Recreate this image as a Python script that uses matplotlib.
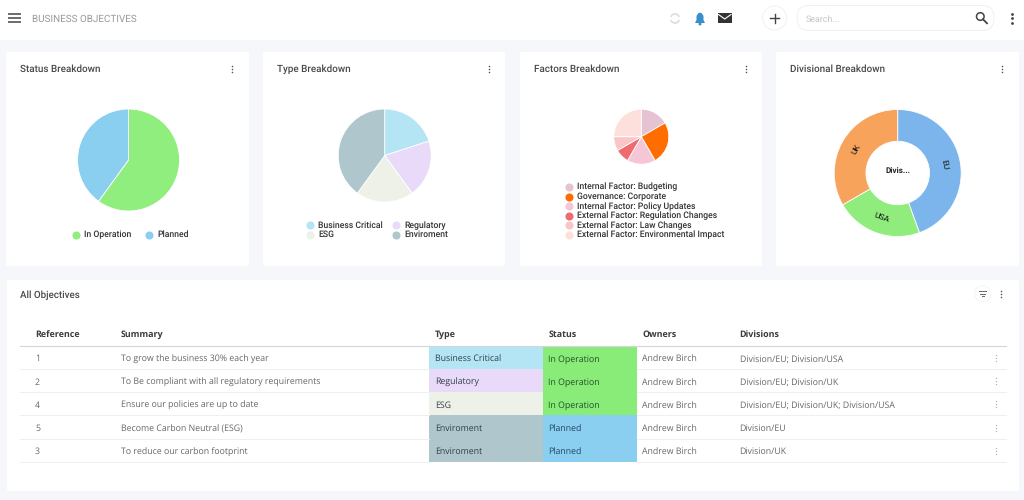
import matplotlib
matplotlib.use('Agg')
import matplotlib.pyplot as plt
from matplotlib.patches import Rectangle, FancyBboxPatch, Circle, Polygon, Arc
import numpy as np

plt.rcParams['font.family'] = ['Roboto', 'DejaVu Sans']
plt.rcParams['text.hinting'] = 'none'

W = 1024
H = 500

status_labels = ['In Operation', 'Planned']
status_values = [3, 2]
status_colors = ['#90ee7e', '#8bcff0']

type_labels = ['Business Critical', 'Regulatory', 'ESG', 'Enviroment']
type_values = [1, 1, 1, 2]
type_colors = ['#b3e5f5', '#e9daf9', '#edf1e8', '#afc6cc']

factor_labels = ['Internal Factor: Budgeting', 'Governance: Corporate', 'Internal Factor: Policy Updates',
                 'External Factor: Regulation Changes', 'External Factor: Law Changes',
                 'External Factor: Environmental Impact']
factor_values = [2, 3, 2, 1, 1, 3]
factor_colors = ['#e6c3d3', '#ff6d00', '#f7c6d6', '#ee6b70', '#f9c5c7', '#fde0db']

division_labels = ['EU', 'USA', 'UK']
division_values = [4, 2, 3]
division_colors = ['#7cb5ec', '#90ed7d', '#f7a35c']

table_columns = ['Reference', 'Summary', 'Type', 'Status', 'Owners', 'Divisions']
table_refs = ['1', '2', '4', '5', '3']
table_summary = ['To grow the business 30% each year', 'To Be compliant with all regulatory requirements',
                 'Ensure our policies are up to date', 'Become Carbon Neutral (ESG)', 'To reduce our carbon footprint']
table_type = ['Business Critical', 'Regulatory', 'ESG', 'Enviroment', 'Enviroment']
table_status = ['In Operation', 'In Operation', 'In Operation', 'Planned', 'Planned']
table_owner = ['Andrew Birch'] * 5
table_division = ['Division/EU; Division/USA', 'Division/EU; Division/UK', 'Division/EU; Division/UK; Division/USA',
                  'Division/EU', 'Division/UK']
type_fill = {'Business Critical': '#b3e5f5', 'Regulatory': '#e9daf9', 'ESG': '#edf1e8', 'Enviroment': '#afc6cc'}
status_fill = {'In Operation': '#8aec78', 'Planned': '#8bcff0'}

fig = plt.figure(figsize=(W / 100, H / 100), dpi=100, facecolor='#f6f7fb')
ui = fig.add_axes([0, 0, 1, 1], zorder=0)
ui.set_xlim(0, W)
ui.set_ylim(H, 0)
ui.axis('off')


def card(x0, y0, x1, y1):
    ui.add_patch(FancyBboxPatch((x0 + 2, y0 + 2), x1 - x0 - 4, y1 - y0 - 4, boxstyle='round,pad=2',
                                fc='white', ec='none'))


def kebab(x, y, color='#555555', size=1.3, gap=3):
    ui.scatter([x, x, x], [y - gap, y, y + gap], s=size, color=color, lw=0)


def make_pie(cx, cy, r, values, colors, hole=0):
    ax = fig.add_axes([(cx - r) / W, 1 - (cy + r) / H, 2 * r / W, 2 * r / H], zorder=2)
    wedgeprops = {'edgecolor': 'white', 'linewidth': 0.6}
    if hole:
        wedgeprops['width'] = 1 - hole
    wedges, _ = ax.pie(values, colors=colors, startangle=90, counterclock=False, radius=1, wedgeprops=wedgeprops)
    ax.set_xlim(-1, 1)
    ax.set_ylim(-1, 1)
    for w in wedges:
        w.set_clip_on(False)
    return ax, wedges


def legend_item(x, y, label, color):
    ui.scatter([x], [y], s=34, color=color, lw=0)
    ui.text(x + 8.5, y + 2.6, label, fontsize=6.2, fontweight='medium', color='#333333', va='baseline', ha='left')


# header bar
ui.add_patch(Rectangle((0, 0), W, 40, fc='white', ec='none'))
for y in [14, 18, 22]:
    ui.plot([8, 21], [y, y], color='#444444', lw=1.1, solid_capstyle='butt')
ui.text(31.5, 22, 'BUSINESS OBJECTIVES', fontsize=7.1, color='#9a9a9a', va='baseline', ha='left')

# sync icon
ui.add_patch(Arc((675, 18.5), 9, 9, theta1=200, theta2=340, color='#d9dde0', lw=1.2))
ui.add_patch(Arc((675, 18.5), 9, 9, theta1=20, theta2=160, color='#d9dde0', lw=1.2))
# bell
ui.add_patch(Polygon([[695, 23], [696.5, 20], [696.5, 16], [698, 13.5], [700, 12.5], [702, 13.5], [703.5, 16],
                      [703.5, 20], [705, 23]], fc='#3a8fc9', ec='none'))
ui.add_patch(Circle((700, 24), 1.5, fc='#3a8fc9', ec='none'))
# envelope
ui.add_patch(Rectangle((718, 13), 13.5, 10, fc='#333333', ec='none'))
ui.plot([718.5, 724.7, 731], [14.5, 19, 14.5], color='white', lw=0.8)
# plus button
ui.add_patch(Circle((774.6, 18), 12, fc='white', ec='#f0f1f3', lw=0.7))
ui.plot([770, 779], [18, 18], color='#444444', lw=1)
ui.plot([774.6, 774.6], [13.5, 22.5], color='#444444', lw=1)
# search box
ui.add_patch(FancyBboxPatch((797, 5.5), 197, 25, boxstyle='round,pad=0,rounding_size=12', fc='white', ec='#eef0f2',
                            lw=0.7))
ui.text(805.5, 21.5, 'Search...', fontsize=6.4, color='#c4c4c4', va='baseline', ha='left')
ui.add_patch(Circle((980.3, 16.5), 3.8, fc='none', ec='#444444', lw=1.1))
ui.plot([983, 987], [19.3, 23.3], color='#444444', lw=1.3)
kebab(1011.5, 18, color='#444444', size=4, gap=4.5)

# chart cards
card_boxes = [(6, 52, 249, 266), (263, 52, 505, 266), (520, 52, 762, 266), (776, 52, 1019, 266)]
card_titles = ['Status Breakdown', 'Type Breakdown', 'Factors Breakdown', 'Divisional Breakdown']
for box, title in zip(card_boxes, card_titles):
    card(*box)
    ui.text(box[0] + 14, 72.3, title, fontsize=7.15, fontweight='medium', color='#4a4a4a', va='baseline', ha='left')
    kebab(box[0] + 226, 68.5)

make_pie(128.5, 160, 51, status_values, status_colors)
make_pie(384.7, 155.5, 46.5, type_values, type_colors)
make_pie(641.3, 136.7, 27.5, factor_values, factor_colors)
donut, donut_wedges = make_pie(897.7, 173, 63.5, division_values, division_colors, hole=0.5)

for w, label in zip(donut_wedges, division_labels):
    mid = np.radians((w.theta1 + w.theta2) / 2)
    rot = ((w.theta1 + w.theta2) / 2 - 90 + 90) % 180 - 90
    donut.text(0.75 * np.cos(mid), 0.75 * np.sin(mid), label, fontsize=6, color='#111111', rotation=rot,
               rotation_mode='anchor', ha='center', va='center')
donut.text(0, 0.04, 'Divis...', fontsize=5.9, fontweight='bold', color='#222222', ha='center', va='center')

# legends
legend_item(76, 234.7, status_labels[0], status_colors[0])
legend_item(148.5, 234.7, status_labels[1], status_colors[1])
type_x = [310, 396, 310, 396]
type_y = [225, 225, 234.7, 234.7]
for x, y, label, color in zip(type_x, type_y, type_labels, type_colors):
    legend_item(x, y, label, color)
factor_y = [187, 196.7, 206.2, 216, 225.3, 234.7]
for y, label, color in zip(factor_y, factor_labels, factor_colors):
    legend_item(568.7, y, label, color)

# table card
card(7, 280, 1019, 491)
ui.text(20, 297.7, 'All Objectives', fontsize=7, fontweight='medium', color='#4a4a4a', va='baseline', ha='left')
ui.add_patch(Circle((982.7, 293.7), 8, fc='white', ec='#f2f3f5', lw=0.6))
for y, half in [(291, 3.6), (293.7, 2.4), (296.4, 1)]:
    ui.plot([982.7 - half, 982.7 + half], [y, y], color='#666666', lw=0.7)
kebab(1001, 294)

col_x = [35, 121, 435, 548.5, 642, 739.5]
for x, col in zip(col_x, table_columns):
    ui.text(x, 337.3, col, fontsize=6.4, fontweight='bold', color='#3a3a3a', va='baseline', ha='left',
            family=['Open Sans', 'DejaVu Sans'])
ui.plot([20, 1006], [345.5, 345.5], color='#d4d6d9', lw=0.8)

row_edges = [345.7, 369.3, 392.3, 415.3, 438.5, 461.7]
text_y = [358.2, 381.6, 404.8, 428, 451.2]
for i in range(5):
    top = row_edges[i]
    bottom = row_edges[i + 1]
    ui.add_patch(Rectangle((429.3, top), 113.7, bottom - top, fc=type_fill[table_type[i]], ec='none'))
    ui.add_patch(Rectangle((543, top), 93.5, bottom - top, fc=status_fill[table_status[i]], ec='none'))
    ui.plot([20, 429.3], [bottom, bottom], color='#eeeff1', lw=0.7)
    ui.plot([636.5, 1006], [bottom, bottom], color='#eeeff1', lw=0.7)
    row = [(35, table_refs[i], '#666666'), (121, table_summary[i], '#666666'), (435, table_type[i], '#2f3f48'),
           (548.5, table_status[i], '#1f4f2a' if table_status[i] == 'In Operation' else '#1e4460'),
           (642, table_owner[i], '#666666'), (739.5, table_division[i], '#666666')]
    for x, txt, color in row:
        ui.text(x, text_y[i] + 3.2, txt, fontsize=6.35, color=color, va='baseline', ha='left',
                family=['Open Sans', 'DejaVu Sans'])
    kebab(996, text_y[i] - 0.5, color='#b5b5b5', size=1)

fig.savefig('out.png', dpi=100, facecolor=fig.get_facecolor())
